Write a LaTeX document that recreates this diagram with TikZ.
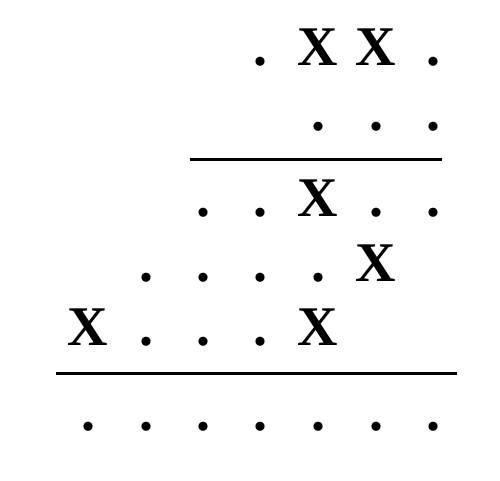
\documentclass[tikz,border=0pt]{standalone}
\usepackage{fontspec}
\newfontfamily\glyphfont{Liberation Serif}
\usepackage{tikz}

\begin{document}
\begin{tikzpicture}[x=1pt, y=-1pt, glyph/.style = {inner sep=0pt, anchor=base, font=\glyphfont\bfseries\fontsize{56}{56}\selectfont}, rule/.style = {line width=3pt}]

    \useasboundingbox (0,0) rectangle (500,481);

    % first addend
    \node[glyph] (a4) at (260,66) {.};
    \node[glyph] (a5) at (318,66) {X};
    \node[glyph] (a6) at (376,66) {X};
    \node[glyph] (a7) at (433,66) {.};

    % second addend
    \node[glyph] (b5) at (318,131) {.};
    \node[glyph] (b6) at (376,131) {.};
    \node[glyph] (b7) at (433,131) {.};

    % upper rule
    \coordinate (ul) at (190,160);
    \coordinate (ur) at (442,160);
    \draw[rule] (ul) -- (ur);

    % partial products
    \node[glyph] (c3) at (203,216) {.};
    \node[glyph] (c4) at (260,216) {.};
    \node[glyph] (c5) at (318,216) {X};
    \node[glyph] (c6) at (376,216) {.};
    \node[glyph] (c7) at (433,216) {.};

    \node[glyph] (d2) at (146,281) {.};
    \node[glyph] (d3) at (203,281) {.};
    \node[glyph] (d4) at (260,281) {.};
    \node[glyph] (d5) at (318,281) {.};
    \node[glyph] (d6) at (376,281) {X};

    \node[glyph] (e1) at (88,345) {X};
    \node[glyph] (e2) at (146,345) {.};
    \node[glyph] (e3) at (203,345) {.};
    \node[glyph] (e4) at (260,345) {.};
    \node[glyph] (e5) at (318,345) {X};

    % lower rule
    \coordinate (ll) at (56,373);
    \coordinate (lr) at (457,373);
    \draw[rule] (ll) -- (lr);

    % result
    \foreach \i/\x in {1/88, 2/146, 3/203, 4/260, 5/318, 6/376, 7/433}
        \node[glyph] (f\i) at (\x,430) {.};

\end{tikzpicture}
\end{document}
